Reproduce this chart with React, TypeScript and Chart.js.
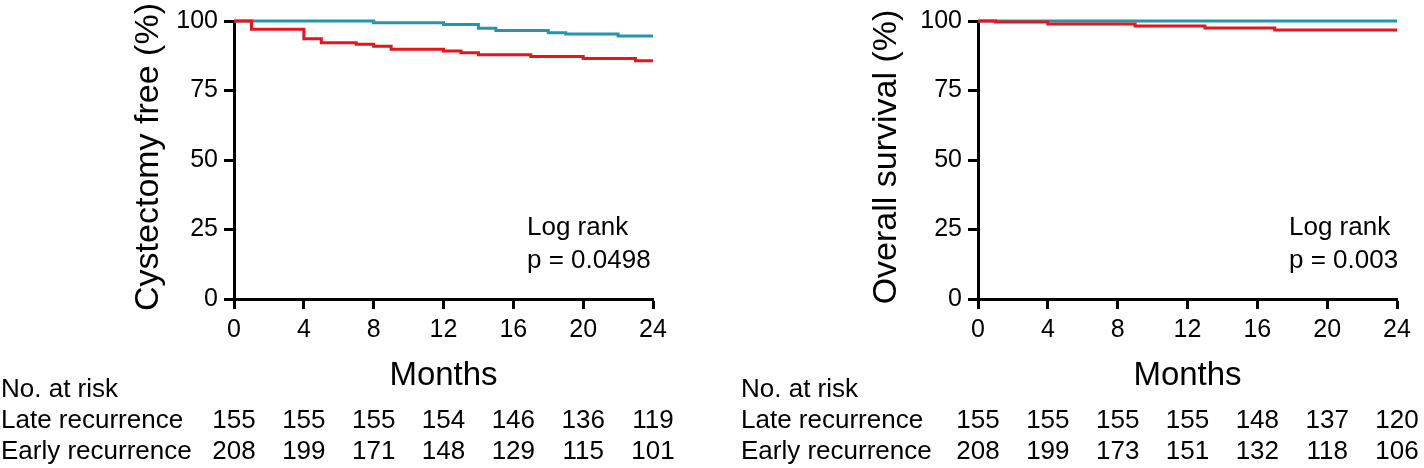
import React, { useEffect, useRef } from "react";
import { Chart, registerables } from "chart.js";

Chart.register(...registerables);

const FONT = "'Liberation Sans', Arial, Helvetica, sans-serif";
const RED = "#E8141B";
const TEAL = "#2396AB";

const MONTH_TICKS = [0, 4, 8, 12, 16, 20, 24];
const Y_TICKS = [0, 25, 50, 75, 100];

// Cystectomy-free survival (Kaplan-Meier steps)
const cysLateTime = [0, 8, 12, 14, 15, 18, 19, 22, 24];
const cysLateValue = [100, 99.4, 98.7, 97.4, 96.6, 95.8, 95.3, 94.6, 94.6];
const cysEarlyTime = [0, 1, 4, 5, 7, 8, 9, 12, 13, 14, 17, 20, 23, 24];
const cysEarlyValue = [100, 97.0, 93.6, 92.2, 91.6, 90.9, 89.8, 89.2, 88.6, 87.9, 87.2, 86.5, 85.7, 85.7];

// Overall survival
const osLateTime = [0, 24];
const osLateValue = [100, 100];
const osEarlyTime = [0, 1, 4, 9, 13, 17, 24];
const osEarlyValue = [100, 99.6, 98.9, 98.2, 97.5, 96.8, 96.8];

// Numbers at risk
const cysRiskLate = [155, 155, 155, 154, 146, 136, 119];
const cysRiskEarly = [208, 199, 171, 148, 129, 115, 101];
const osRiskLate = [155, 155, 155, 155, 148, 137, 120];
const osRiskEarly = [208, 199, 173, 151, 132, 118, 106];

const GROUP_LABELS = ["Late recurrence", "Early recurrence"];
const RISK_HEADER = "No. at risk";
const X_TITLE = "Months";

type PanelProps = {
  left: number;
  yAxisWidth: number;
  rightPad: number;
  yTitle: string;
  titleX: number;
  pText: string;
  pX: number;
  tableX: number;
  lateTime: number[];
  lateValue: number[];
  earlyTime: number[];
  earlyValue: number[];
  riskLate: number[];
  riskEarly: number[];
};

function Panel(p: PanelProps) {
  const ref = useRef<HTMLCanvasElement | null>(null);
  useEffect(() => {
    if (!ref.current) return;
    const annot = {
      id: "annot",
      afterDraw(chart: any) {
        const ctx = chart.ctx;
        const area = chart.chartArea;
        const xs = chart.scales.x;
        ctx.save();
        ctx.fillStyle = "#000";
        // y title
        ctx.save();
        ctx.font = `34px ${FONT}`;
        ctx.translate(p.titleX, 157);
        ctx.rotate(-Math.PI / 2);
        ctx.textAlign = "center";
        ctx.textBaseline = "alphabetic";
        ctx.fillText(p.yTitle, 0, 0);
        ctx.restore();
        // x title
        ctx.font = `33px ${FONT}`;
        ctx.textAlign = "center";
        ctx.textBaseline = "alphabetic";
        ctx.fillText(X_TITLE, (area.left + area.right) / 2, 385);
        // log rank
        ctx.font = `26px ${FONT}`;
        ctx.textAlign = "left";
        ctx.fillText("Log rank", p.pX, 235);
        ctx.fillText(p.pText, p.pX, 268);
        // risk table
        ctx.fillText(RISK_HEADER, p.tableX, 397);
        ctx.fillText(GROUP_LABELS[0], p.tableX, 428);
        ctx.fillText(GROUP_LABELS[1], p.tableX, 459);
        ctx.textAlign = "center";
        MONTH_TICKS.forEach((m, i) => {
          const x = xs.getPixelForValue(m);
          ctx.fillText(String(p.riskLate[i]), x, 428);
          ctx.fillText(String(p.riskEarly[i]), x, 459);
        });
        ctx.restore();
      },
    };
    const tickFont = { family: FONT, size: 25 };
    const chart = new Chart(ref.current, {
      type: "line",
      data: {
        datasets: [
          {
            label: GROUP_LABELS[1],
            data: p.earlyTime.map((t, i) => ({ x: t, y: p.earlyValue[i] })),
            borderColor: RED,
            borderWidth: 3,
            pointRadius: 0,
            stepped: "before",
            fill: false,
            clip: false,
          } as any,
          {
            label: GROUP_LABELS[0],
            data: p.lateTime.map((t, i) => ({ x: t, y: p.lateValue[i] })),
            borderColor: TEAL,
            borderWidth: 3,
            pointRadius: 0,
            stepped: "before",
            fill: false,
            clip: false,
          } as any,
        ],
      },
      options: {
        animation: false,
        responsive: false,
        devicePixelRatio: 1,
        layout: { padding: { left: 0, right: p.rightPad, top: 20, bottom: 0 }, autoPadding: false },
        plugins: { legend: { display: false }, tooltip: { enabled: false } },
        scales: {
          x: {
            type: "linear",
            min: 0,
            max: 24,
            afterBuildTicks: (s: any) => {
              s.ticks = MONTH_TICKS.map((v) => ({ value: v }));
            },
            ticks: { font: tickFont, color: "#000", padding: 6, maxRotation: 0, autoSkip: false },
            grid: { drawOnChartArea: false, drawTicks: true, tickLength: 10, tickWidth: 3, tickColor: "#000" },
            border: { display: true, color: "#000", width: 3 },
            afterFit: (s: any) => {
              s.height = 169;
            },
          },
          y: {
            type: "linear",
            min: 0,
            max: 100,
            afterBuildTicks: (s: any) => {
              s.ticks = Y_TICKS.map((v) => ({ value: v }));
            },
            ticks: { font: tickFont, color: "#000", padding: 6, autoSkip: false },
            grid: { drawOnChartArea: false, drawTicks: true, tickLength: 10, tickWidth: 3, tickColor: "#000" },
            border: { display: true, color: "#000", width: 3 },
            afterFit: (s: any) => {
              s.width = p.yAxisWidth;
            },
          },
        },
      } as any,
      plugins: [annot],
    });
    return () => chart.destroy();
  }, []);
  return (
    <canvas
      ref={ref}
      width={712}
      height={468}
      style={{ position: "absolute", left: p.left, top: 0, width: 712, height: 468 }}
    />
  );
}

export default function App() {
  return (
    <div style={{ position: "absolute", left: 0, top: 0, width: 1424, height: 468, background: "#fff" }}>
      <Panel
        left={0}
        yAxisWidth={234}
        rightPad={59}
        yTitle="Cystectomy free (%)"
        titleX={158}
        pText="p = 0.0498"
        pX={527}
        tableX={1}
        lateTime={cysLateTime}
        lateValue={cysLateValue}
        earlyTime={cysEarlyTime}
        earlyValue={cysEarlyValue}
        riskLate={cysRiskLate}
        riskEarly={cysRiskEarly}
      />
      <Panel
        left={712}
        yAxisWidth={266}
        rightPad={27}
        yTitle="Overall survival (%)"
        titleX={184}
        pText="p = 0.003"
        pX={577}
        tableX={29}
        lateTime={osLateTime}
        lateValue={osLateValue}
        earlyTime={osEarlyTime}
        earlyValue={osEarlyValue}
        riskLate={osRiskLate}
        riskEarly={osRiskEarly}
      />
    </div>
  );
}
